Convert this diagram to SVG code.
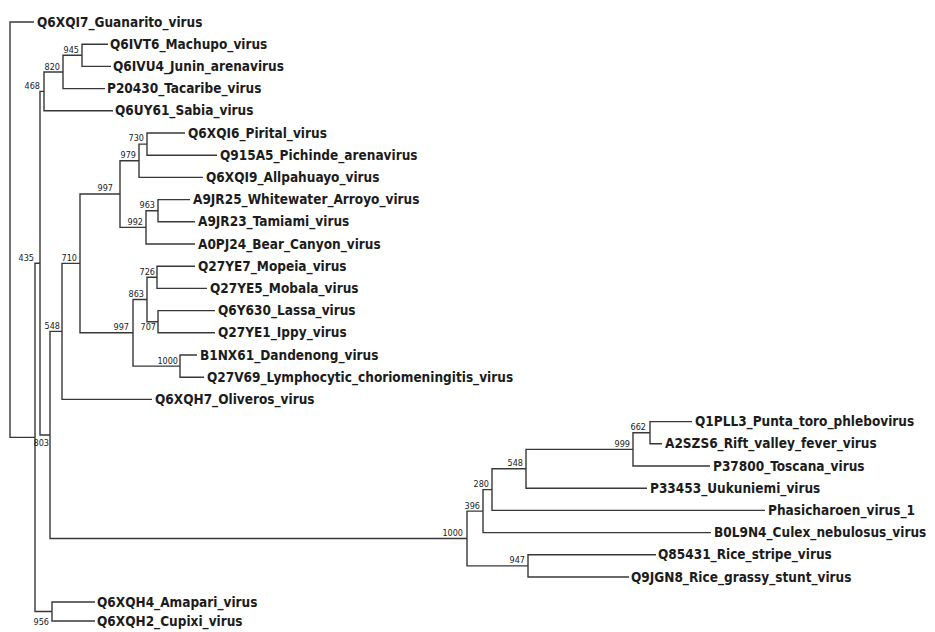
<svg xmlns="http://www.w3.org/2000/svg" width="935" height="632" viewBox="0 0 935 632">
<style>
.bg{fill:#ffffff}
.cn path{fill:none;stroke:#383838;stroke-width:1.4}
.leaf text{font-family:"DejaVu Sans Condensed","DejaVu Sans","Liberation Sans",sans-serif;font-stretch:condensed;font-weight:bold;font-size:13.5px;fill:#1c1c1c}
.bs text{font-family:"DejaVu Sans Condensed","DejaVu Sans","Liberation Sans",sans-serif;font-stretch:condensed;font-size:9px;fill:#222;text-anchor:end}
</style>
<rect class="bg" x="0" y="0" width="935" height="632"/>
<g id="connectors" class="cn">
<path d="M34 22 H10 V437.35 H35"/>
<path d="M108 44.2 H82 V66.4 H111"/>
<path d="M82 55.3 H63 V88.6 H105"/>
<path d="M63 71.95 H44 V110.8 H113"/>
<path d="M185 133 H147 V155.2 H217"/>
<path d="M147 144.1 H139 V177.4 H203"/>
<path d="M190 199.6 H158 V221.8 H195"/>
<path d="M158 210.7 H146 V244 H195"/>
<path d="M139 160.75 H120 V227.35 H146"/>
<path d="M195 266.2 H157 V288.4 H207"/>
<path d="M215 310.6 H158 V332.8 H215"/>
<path d="M157 277.3 H147 V321.7 H158"/>
<path d="M197 355 H180 V377.2 H204"/>
<path d="M147 299.5 H133 V366.1 H180"/>
<path d="M120 194.05 H80 V332.8 H133"/>
<path d="M80 263.4 H62 V399.4 H152"/>
<path d="M692 421.6 H650 V443.8 H662"/>
<path d="M650 432.7 H633 V466 H710"/>
<path d="M633 449.35 H526 V488.2 H647"/>
<path d="M526 468.8 H492 V510.4 H765"/>
<path d="M492 489.6 H483 V532.6 H711"/>
<path d="M656 554.8 H528 V577 H629"/>
<path d="M483 511.1 H467 V565.9 H528"/>
<path d="M62 331.4 H50 V538.5 H467"/>
<path d="M44 91.4 H40 V434.95 H50"/>
<path d="M95 602 H52 V621 H95"/>
<path d="M40 263.2 H35 V611.5 H52"/>
</g>
<g class="leaf">
<g id="Q6XQI7"><text x="37" y="26.5">Q6XQI7_Guanarito_virus</text></g>
<g id="Q6IVT6"><text x="110" y="48.7">Q6IVT6_Machupo_virus</text></g>
<g id="Q6IVU4"><text x="113" y="70.9">Q6IVU4_Junin_arenavirus</text></g>
<g id="P20430"><text x="107" y="93.1">P20430_Tacaribe_virus</text></g>
<g id="Q6UY61"><text x="115" y="115.3">Q6UY61_Sabia_virus</text></g>
<g id="Q6XQI6"><text x="188" y="137.5">Q6XQI6_Pirital_virus</text></g>
<g id="Q915A5"><text x="220" y="159.7">Q915A5_Pichinde_arenavirus</text></g>
<g id="Q6XQI9"><text x="206" y="181.9">Q6XQI9_Allpahuayo_virus</text></g>
<g id="A9JR25"><text x="193" y="204.1">A9JR25_Whitewater_Arroyo_virus</text></g>
<g id="A9JR23"><text x="198" y="226.3">A9JR23_Tamiami_virus</text></g>
<g id="A0PJ24"><text x="198" y="248.5">A0PJ24_Bear_Canyon_virus</text></g>
<g id="Q27YE7"><text x="198" y="270.7">Q27YE7_Mopeia_virus</text></g>
<g id="Q27YE5"><text x="210" y="292.9">Q27YE5_Mobala_virus</text></g>
<g id="Q6Y630"><text x="218" y="315.1">Q6Y630_Lassa_virus</text></g>
<g id="Q27YE1"><text x="218" y="337.3">Q27YE1_Ippy_virus</text></g>
<g id="B1NX61"><text x="200" y="359.5">B1NX61_Dandenong_virus</text></g>
<g id="Q27V69"><text x="207" y="381.7">Q27V69_Lymphocytic_choriomeningitis_virus</text></g>
<g id="Q6XQH7"><text x="155" y="403.9">Q6XQH7_Oliveros_virus</text></g>
<g id="Q1PLL3"><text x="695" y="426.1">Q1PLL3_Punta_toro_phlebovirus</text></g>
<g id="A2SZS6"><text x="665" y="448.3">A2SZS6_Rift_valley_fever_virus</text></g>
<g id="P37800"><text x="713" y="470.5">P37800_Toscana_virus</text></g>
<g id="P33453"><text x="650" y="492.7">P33453_Uukuniemi_virus</text></g>
<g id="Phasicharoen"><text x="768" y="514.9">Phasicharoen_virus_1</text></g>
<g id="B0L9N4"><text x="714" y="537.1">B0L9N4_Culex_nebulosus_virus</text></g>
<g id="Q85431"><text x="658" y="559.3">Q85431_Rice_stripe_virus</text></g>
<g id="Q9JGN8"><text x="631" y="581.5">Q9JGN8_Rice_grassy_stunt_virus</text></g>
<g id="Q6XQH4"><text x="97" y="606.5">Q6XQH4_Amapari_virus</text></g>
<g id="Q6XQH2"><text x="97" y="625.5">Q6XQH2_Cupixi_virus</text></g>
</g>
<g class="bs">
<g id="n945"><text x="79" y="52.5">945</text></g>
<g id="n820"><text x="60" y="69.5">820</text></g>
<g id="n468"><text x="40" y="88.5">468</text></g>
<g id="n730"><text x="144" y="141">730</text></g>
<g id="n979"><text x="136" y="158">979</text></g>
<g id="n963"><text x="155" y="208">963</text></g>
<g id="n992"><text x="143" y="225">992</text></g>
<g id="n997a"><text x="113" y="191">997</text></g>
<g id="n726"><text x="155" y="275">726</text></g>
<g id="n863"><text x="144" y="297">863</text></g>
<g id="n707"><text x="156" y="330">707</text></g>
<g id="n997b"><text x="129" y="330">997</text></g>
<g id="n1000a"><text x="178" y="364">1000</text></g>
<g id="n710"><text x="77" y="261">710</text></g>
<g id="n548"><text x="60" y="329">548</text></g>
<g id="n435"><text x="34" y="261">435</text></g>
<g id="n803"><text x="49" y="446">803</text></g>
<g id="n662"><text x="646" y="430">662</text></g>
<g id="n999"><text x="630" y="447">999</text></g>
<g id="n548b"><text x="523" y="466">548</text></g>
<g id="n280"><text x="489" y="487">280</text></g>
<g id="n396"><text x="480" y="509">396</text></g>
<g id="n1000b"><text x="463" y="536">1000</text></g>
<g id="n947"><text x="525" y="563">947</text></g>
<g id="n956"><text x="49" y="625">956</text></g>
</g>
</svg>
